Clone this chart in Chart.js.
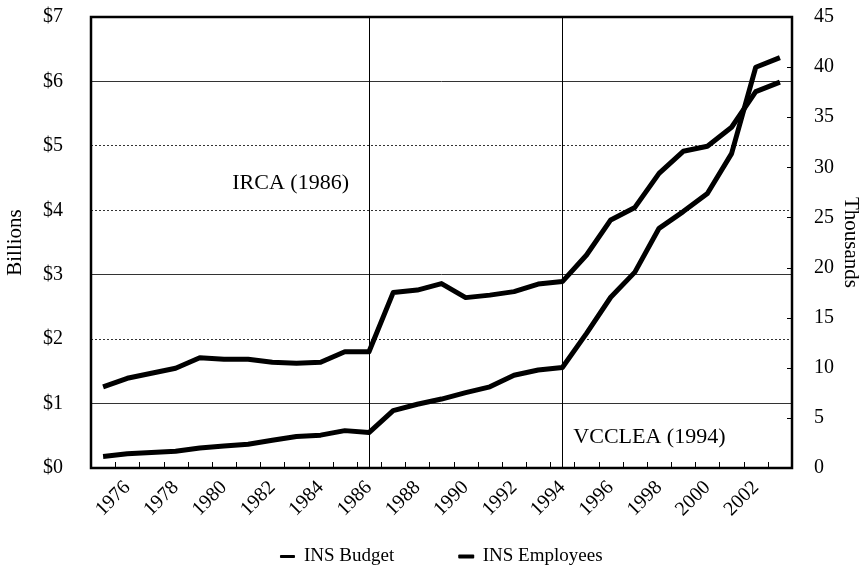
<!DOCTYPE html>
<html lang="en">
<head>
<meta charset="UTF-8">
<title>INS Budget and Employees, 1975-2003</title>
<script src="https://cdn.jsdelivr.net/npm/chart.js@4"></script>
<style>
  html, body { margin: 0; padding: 0; background: #fff; }
  #wrap { width: 863px; height: 576px; }
</style>
</head>
<body>
<div id="wrap"><canvas id="chart"></canvas></div>
<script>
// fiscal years on the x axis
const years = ['1975','1976','1977','1978','1979','1980','1981','1982','1983','1984',
               '1985','1986','1987','1988','1989','1990','1991','1992','1993','1994',
               '1995','1996','1997','1998','1999','2000','2001','2002','2003'];

// INS budget, billions of dollars (left axis)
const budget = [0.18, 0.22, 0.24, 0.26, 0.31, 0.34, 0.37, 0.43, 0.49, 0.51,
                0.58, 0.55, 0.89, 0.99, 1.07, 1.17, 1.26, 1.44, 1.52, 1.56,
                2.09, 2.65, 3.04, 3.72, 3.98, 4.26, 4.88, 6.22, 6.37];

// INS employees, thousands (right axis)
const employees = [8.1, 8.95, 9.45, 9.95, 11.0, 10.85, 10.85, 10.55, 10.45, 10.55,
                   11.6, 11.6, 17.5, 17.75, 18.4, 17.0, 17.25, 17.6, 18.35, 18.6,
                   21.25, 24.75, 26.0, 29.4, 31.6, 32.1, 34.0, 37.55, 38.5];

// law markers
const lawYears = ['1986', '1994'];
const lawNames = ['IRCA (1986)', 'VCCLEA (1994)'];
const lawLabelAt = [4.42, 0.48];   // billions, where the caption sits

const dottedGrid = [2, 4, 5];
const serif = '"Liberation Serif", "Times New Roman", serif';

// frame, inner tick marks, law lines and captions
const decorations = {
  id: 'decorations',
  afterDatasetsDraw(chart) {
    const { ctx, chartArea: a, scales } = chart;
    const x = scales.x, y = scales.y, y1 = scales.y1;
    const step = x.getPixelForValue(1) - x.getPixelForValue(0);
    ctx.save();
    ctx.strokeStyle = '#000';

    // law lines
    ctx.lineWidth = 1;
    lawYears.forEach(yr => {
      const px = Math.round(x.getPixelForValue(years.indexOf(yr))) + 0.5;
      ctx.beginPath();
      ctx.moveTo(px, a.top);
      ctx.lineTo(px, a.bottom);
      ctx.stroke();
    });

    // x tick marks between years, pointing in
    for (let i = 1; i < years.length; i++) {
      const px = Math.round(x.getPixelForValue(i) - step / 2) + 0.5;
      ctx.beginPath();
      ctx.moveTo(px, a.bottom);
      ctx.lineTo(px, a.bottom - 6);
      ctx.stroke();
    }
    // right axis tick marks, pointing in
    y1.ticks.forEach(t => {
      const py = Math.round(y1.getPixelForValue(t.value)) + 0.5;
      ctx.beginPath();
      ctx.moveTo(a.right, py);
      ctx.lineTo(a.right - 5, py);
      ctx.stroke();
    });

    // frame
    ctx.lineWidth = 2.5;
    ctx.strokeRect(a.left, a.top, a.right - a.left, a.bottom - a.top);

    // captions
    ctx.fillStyle = '#000';
    ctx.font = '22px ' + serif;
    ctx.textBaseline = 'middle';
    lawYears.forEach((yr, i) => {
      const px = x.getPixelForValue(years.indexOf(yr));
      const py = y.getPixelForValue(lawLabelAt[i]);
      if (i === 0) {
        ctx.textAlign = 'right';
        ctx.fillText(lawNames[i], px - 20, py);
      } else {
        ctx.textAlign = 'left';
        ctx.fillText(lawNames[i], px + 11, py);
      }
    });
    ctx.restore();
  }
};

new Chart(document.getElementById('chart'), {
  type: 'line',
  data: {
    labels: years,
    datasets: [
      {
        label: 'INS Budget',
        data: budget,
        yAxisID: 'y',
        borderColor: '#000',
        backgroundColor: '#000',
        borderWidth: 5,
        pointRadius: 0,
        borderJoinStyle: 'round',
        tension: 0
      },
      {
        label: 'INS Employees',
        data: employees,
        yAxisID: 'y1',
        borderColor: '#000',
        backgroundColor: '#000',
        borderWidth: 5,
        pointRadius: 0,
        borderJoinStyle: 'round',
        tension: 0
      }
    ]
  },
  options: {
    responsive: true,
    maintainAspectRatio: false,
    animation: false,
    layout: { padding: { top: 17, left: 0, right: 0, bottom: 0 } },
    plugins: {
      tooltip: { enabled: false },
      legend: {
        position: 'bottom',
        fullSize: false,
        labels: {
          color: '#000',
          font: { family: serif, size: 19 },
          boxWidth: 14,
          boxHeight: 2,
          padding: 27,
          generateLabels: chart => Chart.defaults.plugins.legend.labels.generateLabels(chart)
            .map((item, i) => Object.assign(item, {
              text: i === 0 ? item.text + '        ' : item.text,
              lineWidth: i === 0 ? 1 : 2,
              strokeStyle: '#000',
              fillStyle: '#000'
            }))
        }
      }
    },
    scales: {
      x: {
        type: 'category',
        offset: true,
        grid: { display: false, drawTicks: false },
        border: { display: false },
        afterFit: s => { s.height = 52; s.paddingLeft = 0; s.paddingRight = 0; },
        ticks: {
          color: '#000',
          font: { family: serif, size: 20 },
          autoSkip: false,
          maxRotation: 45,
          minRotation: 45,
          padding: 8,
          callback: (v, i) => (Number(years[i]) % 2 === 0 ? years[i] : '')
        }
      },
      y: {
        position: 'left',
        min: 0,
        max: 7,
        afterFit: s => { s.width = 91; s.paddingTop = 0; s.paddingBottom = 0; },
        grid: {
          color: '#333',
          lineWidth: 1,
          drawTicks: false
        },
        border: {
          display: false,
          dash: c => (c.tick && dottedGrid.includes(c.tick.value) ? [2, 2] : [])
        },
        ticks: {
          stepSize: 1,
          color: '#000',
          padding: 28,
          font: { family: serif, size: 20 },
          callback: v => '$' + v
        },
        title: {
          display: true,
          text: 'Billions',
          color: '#000',
          font: { family: serif, size: 21 },
          padding: { top: 3, bottom: 0 }
        }
      },
      y1: {
        position: 'right',
        min: 0,
        max: 45,
        afterFit: s => { s.width = 71; s.paddingTop = 0; s.paddingBottom = 0; },
        grid: { display: false, drawTicks: false },
        border: { display: false },
        ticks: {
          stepSize: 5,
          color: '#000',
          padding: 22,
          font: { family: serif, size: 20 }
        },
        title: {
          display: true,
          text: 'Thousands',
          color: '#000',
          font: { family: serif, size: 21 },
          padding: { top: 0, bottom: 0 }
        }
      }
    }
  },
  plugins: [decorations]
});
</script>
</body>
</html>
